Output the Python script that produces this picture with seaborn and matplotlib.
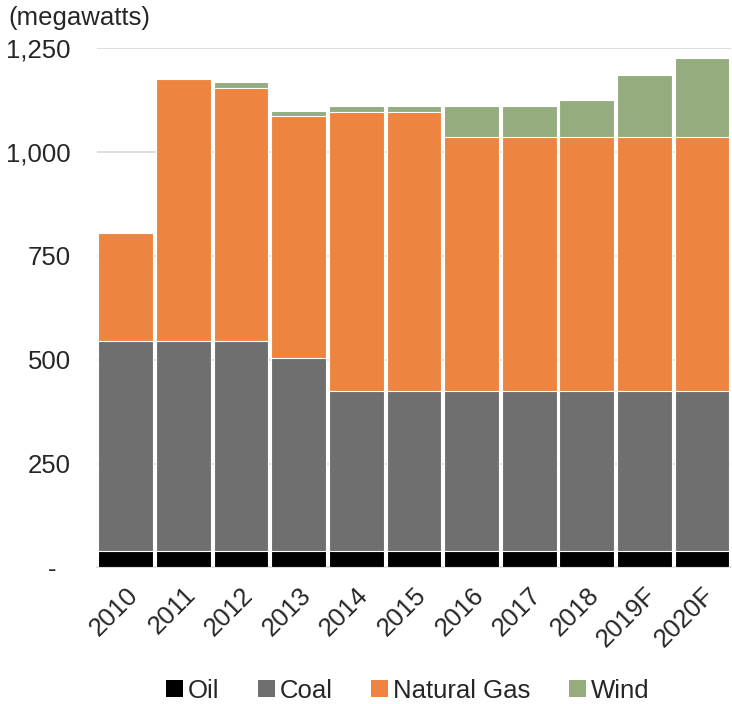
import pandas as pd
import matplotlib
matplotlib.use("Agg")
import matplotlib.pyplot as plt
from matplotlib.patches import Patch
import seaborn as sns

# data (megawatts)
years = ['2010', '2011', '2012', '2013', '2014', '2015', '2016', '2017', '2018', '2019F', '2020F']
oil = [40, 40, 40, 40, 40, 40, 40, 40, 40, 40, 40]
coal = [505, 504, 504, 464, 384, 384, 384, 384, 384, 384, 384]
gas = [260, 631, 610, 581, 671, 671, 612, 612, 612, 612, 612]
wind = [0, 0, 15, 14, 14, 14, 74, 74, 89, 149, 189]

series = ['Oil', 'Coal', 'Natural Gas', 'Wind']
colors = ['#000000', '#6f6f6f', '#ed8540', '#95ad7e']

df = pd.DataFrame({'year': years, 'Oil': oil, 'Coal': coal, 'Natural Gas': gas, 'Wind': wind})
cum = df[series].cumsum(axis=1)
cum['year'] = df['year']

sns.set_style('white')
plt.rcParams['font.family'] = ['Liberation Sans', 'DejaVu Sans']
fs = 18.5

fig = plt.figure(figsize=(7.32, 7.04), dpi=100)
ax = fig.add_axes([0.1325, 0.194, 0.866, 0.738])

# stacked bars: draw cumulative totals from top layer down
for s, c in reversed(list(zip(series, colors))):
    sns.barplot(data=cum, x='year', y=s, color=c, width=0.95, ax=ax,
                edgecolor='white', linewidth=0.8, saturation=1, zorder=3)

ax.set_ylim(0, 1250)
ax.set_xlim(-0.5, len(years) - 0.5)
ticks = [0, 250, 500, 750, 1000, 1250]
ax.set_yticks(ticks)
ax.set_yticklabels(['-  ', '250', '500', '750', '1,000', '1,250'])
ax.yaxis.grid(True, color='#d9d9d9', linewidth=1.2, zorder=0)
ax.set_axisbelow(True)
for sp in ['left', 'right', 'top']:
    ax.spines[sp].set_visible(False)
ax.spines['bottom'].set_color('#d9d9d9')
ax.spines['bottom'].set_linewidth(1.2)
ax.set_xlabel('')
ax.set_ylabel('')
ax.tick_params(axis='y', length=0, pad=19, labelsize=fs)
ax.tick_params(axis='x', length=0, pad=11, labelsize=fs)
plt.setp(ax.get_xticklabels(), rotation=45, ha='right', rotation_mode='anchor')

fig.text(0.011, 0.975, '(megawatts)', fontsize=fs, va='center', ha='left')

handles = [Patch(facecolor=c, edgecolor='none', label=s) for s, c in zip(series, colors)]
fig.legend(handles=handles, loc='center', bbox_to_anchor=(0.557, 0.019), ncol=4,
           frameon=False, fontsize=fs, handlelength=0.65, handleheight=0.65,
           handletextpad=0.2, columnspacing=1.5)

fig.savefig('out.png', dpi=100)
